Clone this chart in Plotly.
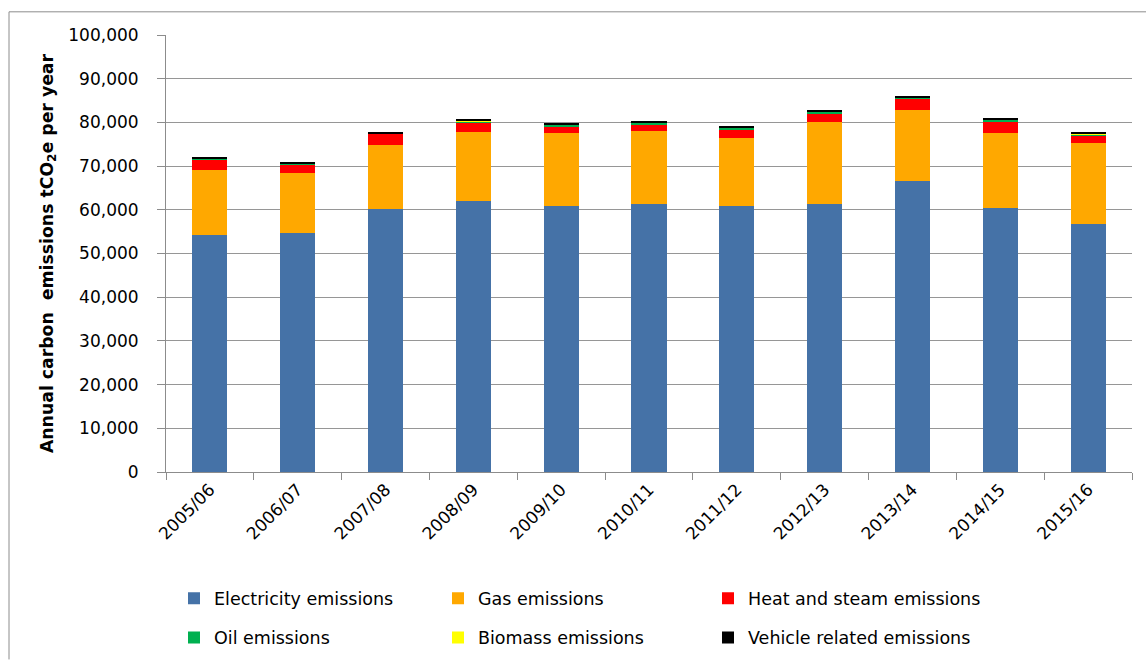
import plotly.graph_objects as go

years = ["2005/06", "2006/07", "2007/08", "2008/09", "2009/10", "2010/11",
         "2011/12", "2012/13", "2013/14", "2014/15", "2015/16"]
electricity = [54300, 54700, 60100, 62000, 60900, 61250, 60900, 61250, 66500, 60350, 56700]
gas = [14800, 13800, 14800, 15900, 16700, 16700, 15550, 18950, 16400, 17250, 18600]
heat_steam = [2300, 1900, 2450, 1850, 1500, 1550, 1800, 1800, 2600, 2500, 1800]
oil = [400, 100, 100, 550, 400, 500, 550, 550, 250, 450, 200]
biomass = [0, 0, 0, 50, 50, 50, 50, 50, 50, 50, 50]
vehicle = [350, 300, 200, 300, 400, 250, 300, 350, 300, 350, 350]

series_names = ["Electricity emissions", "Gas emissions", "Heat and steam emissions",
                "Oil emissions", "Biomass emissions", "Vehicle related emissions"]
series_values = [electricity, gas, heat_steam, oil, biomass, vehicle]
series_colors = ["#4572A7", "#FFA800", "#FF0000", "#00B050", "#FFFF00", "#000000"]

FONT = "DejaVu Sans"
W, H = 1146, 668
ML, MR, MT, MB = 166, 14, 35, 190
PW, PH = W - ML - MR, H - MT - MB

# legend grid: three columns, two rows (pixel anchors)
LEG_COL_X = [174, 438, 708]
LEG_ROW_Y = [606, 646]


def px_x(p):
    return (p - ML) / PW


def px_y(p):
    return (H - MB - p) / PH


fig = go.Figure()
legend_layout = {}
for i, (name, vals, col) in enumerate(zip(series_names, series_values, series_colors)):
    key = "legend" if i == 0 else f"legend{i + 1}"
    fig.add_trace(go.Bar(x=years, y=vals, name=name, marker_color=col,
                         marker_line_width=0, legend=key, showlegend=True))
    legend_layout[key] = dict(
        orientation="h", xanchor="left", yanchor="middle",
        x=px_x(LEG_COL_X[i % 3]), y=px_y(LEG_ROW_Y[i // 3]),
        font=dict(family=FONT, size=17.5, color="#000000"),
        bgcolor="rgba(0,0,0,0)", itemclick=False, itemdoubleclick=False,
        visible=True,
    )

fig.update_layout(
    width=W, height=H,
    showlegend=True,
    margin=dict(l=ML, r=MR, t=MT, b=MB),
    paper_bgcolor="white", plot_bgcolor="white",
    barmode="stack", bargap=0.6,
    font=dict(family=FONT, size=17, color="#000000"),
    xaxis=dict(
        type="category", tickangle=-45, tickson="boundaries",
        ticks="outside", ticklen=7, tickcolor="#8c8c8c",
        showline=True, linecolor="#8c8c8c", linewidth=1,
        showgrid=False, tickfont=dict(family=FONT, size=17, color="#000000"),
    ),
    yaxis=dict(
        range=[0, 100000], dtick=10000, tickformat=",",
        ticks="outside", ticklen=8, tickcolor="#8c8c8c",
        ticklabelstandoff=15,
        showline=True, linecolor="#8c8c8c", linewidth=1,
        showgrid=True, gridcolor="#969696", gridwidth=1.2,
        zeroline=False,
        tickfont=dict(family=FONT, size=17, color="#000000"),
        title=dict(text="<b>Annual carbon  emissions tCO<sub>2</sub>e per year</b>",
                   font=dict(family=FONT, size=17.3, color="#000000"),
                   standoff=10),
    ),
    shapes=[dict(type="path", xref="paper", yref="paper",
                 path=f"M {px_x(9)},{px_y(H)} L {px_x(9)},{px_y(11.5)} L {px_x(W)},{px_y(11.5)}",
                 line=dict(color="#8c8c8c", width=1), layer="below")],
    **legend_layout,
)

fig.write_html("out.html")
